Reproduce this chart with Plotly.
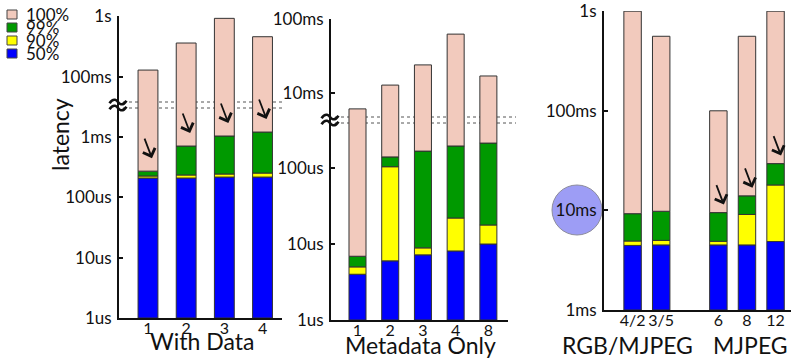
import numpy as np
import plotly.graph_objects as go

W, H = 791, 361
FONT = "Lato"

# Percentile levels, drawn bottom to top
LEVELS = ["50%", "90%", "99%", "100%"]
COLORS = {"50%": "#0000FF", "90%": "#FFFF00", "99%": "#009900", "100%": "#F2CABD"}

# Panel 1: "With Data" (latency in seconds)
wd_threads = ["1", "2", "3", "4"]
wd_p50 = [209e-6, 209e-6, 217e-6, 217e-6]
wd_p90 = [226e-6, 235e-6, 244e-6, 253e-6]
wd_p99 = [272e-6, 709e-6, 1.04e-3, 1.21e-3]
wd_p100 = [0.130, 0.361, 0.917, 0.458]
wd_arrow = [True, True, True, True]

# Panel 2: "Metadata Only"
md_threads = ["1", "2", "3", "4", "8"]
md_p50 = [4.0e-6, 6.0e-6, 7.2e-6, 8.1e-6, 10.0e-6]
md_p90 = [5.0e-6, 104e-6, 8.9e-6, 22e-6, 17.8e-6]
md_p99 = [6.9e-6, 140e-6, 167e-6, 195e-6, 213e-6]
md_p100 = [6.1e-3, 12.8e-3, 24e-3, 62.6e-3, 17e-3]

# Panel 3: video pipelines
vid_configs = ["4/2", "3/5", "6", "8", "12"]
vid_groups = ["RGB/MJPEG", "RGB/MJPEG", "MJPEG", "MJPEG", "MJPEG"]
vid_p50 = [4.45e-3, 4.5e-3, 4.5e-3, 4.5e-3, 4.87e-3]
vid_p90 = [4.93e-3, 5.0e-3, 4.9e-3, 9.1e-3, 18e-3]
vid_p99 = [9.27e-3, 9.8e-3, 9.5e-3, 14e-3, 29.5e-3]
vid_p100 = [1.0, 0.56, 0.100, 0.56, 1.0]
vid_arrow = [False, False, True, True, True]


def fx(px):
    return px / W


def fy(py):
    return 1 - py / H


fig = go.Figure()


def add_percentile_bars(x, p50, p90, p99, p100, floor, xaxis, yaxes, width):
    lows = [[floor] * len(x), p50, p90, p99]
    highs = [p50, p90, p99, p100]
    for name, lo, hi in zip(LEVELS, lows, highs):
        for ya in yaxes:
            fig.add_trace(go.Bar(
                x=x, y=np.array(hi) - np.array(lo), base=lo,
                xaxis=xaxis, yaxis=ya, width=width,
                marker=dict(color=COLORS[name], line=dict(color="#333333", width=1)),
                showlegend=False, hoverinfo="skip", name=name,
            ))


add_percentile_bars(wd_threads, wd_p50, wd_p90, wd_p99, wd_p100, 1e-6, "x", ["y", "y2"], 0.52)
add_percentile_bars(md_threads, md_p50, md_p90, md_p99, md_p100, 1e-6, "x2", ["y3", "y4"], 0.52)

group_order = list(dict.fromkeys(vid_groups))
vid_pos = [i + group_order.index(g) for i, g in enumerate(vid_groups)]
add_percentile_bars(vid_pos, vid_p50, vid_p90, vid_p99, vid_p100, 1e-3, "x3", ["y5"], 0.61)

axis_common = dict(showline=True, linecolor="#111111", linewidth=2, showgrid=False,
                   zeroline=False, tickfont=dict(family=FONT, size=17, color="#111111"))
xcommon = dict(axis_common, ticks="", tickangle=0, ticklabelstandoff=-5,
               tickfont=dict(family=FONT, size=16, color="#111111"))
ycommon = dict(axis_common, type="log", ticks="inside", ticklen=4, tickwidth=1.5,
               tickcolor="#111111", ticklabelstandoff=2)

fig.update_layout(
    width=W, height=H, margin=dict(l=0, r=0, t=0, b=0, autoexpand=False),
    paper_bgcolor="white", plot_bgcolor="rgba(0,0,0,0)",
    barmode="overlay", showlegend=False,
    font=dict(family=FONT, color="#111111"),
    # With Data: broken log axis
    xaxis=dict(xcommon, domain=[fx(119), fx(282)], type="category", range=[-0.759, 3.51], anchor="y"),
    yaxis=dict(ycommon, domain=[fy(318), fy(105)], range=[-6, -2.469], anchor="x",
               tickvals=[1e-6, 1e-5, 1e-4, 1e-3], ticktext=["1us", "10us", "100us", "1ms"]),
    yaxis2=dict(ycommon, domain=[fy(105), fy(16)], range=[-1.459, 0.001], anchor="x",
                tickvals=[0.1, 1], ticktext=["100ms", "1s"]),
    # Metadata Only: broken log axis
    xaxis2=dict(xcommon, domain=[fx(331), fx(508)], type="category", range=[-0.81, 4.60], anchor="y3"),
    yaxis3=dict(ycommon, domain=[fy(320), fy(120)], range=[-6, -3.368], anchor="x2",
                tickvals=[1e-6, 1e-5, 1e-4], ticktext=["1us", "10us", "100us"]),
    yaxis4=dict(ycommon, domain=[fy(120), fy(19)], range=[-2.365, -0.999], anchor="x2",
                tickvals=[1e-2, 1e-1], ticktext=["10ms", "100ms"]),
    # Video pipelines
    xaxis3=dict(xcommon, domain=[fx(604), 1.0], range=[-1.0, 5.54], anchor="y5",
                tickvals=vid_pos, ticktext=vid_configs),
    yaxis5=dict(ycommon, domain=[fy(310), fy(11)], range=[-3, 0.002], anchor="x3",
                tickvals=[1e-3, 1e-2, 1e-1, 1], ticktext=["1ms", "10ms", "100ms", "1s"]),
)

shapes = []
annotations = []


def tilde_path(cx, cy, half=8.5, amp=3.2):
    """Single tilde stroke centred at (cx, cy) in page pixels, as a paper-space path."""
    pts = [(cx - half, cy + amp * 0.4), (cx - half * 0.5, cy - amp * 1.6),
           (cx - half * 0.1, cy - amp * 0.4), (cx, cy),
           (cx + half * 0.5, cy + amp * 1.6), (cx + half, cy - amp * 0.4)]
    p = [f"{fx(x):.5f},{fy(y):.5f}" for x, y in pts]
    return f"M {p[0]} C {p[1]} {p[2]} {p[3]} S {p[4]} {p[5]}"


# Axis-break markers: dotted guides plus a double tilde across the axis
for axis_x, x1, ya, yb in [(119, 282, 102, 108), (331, 516, 117, 123)]:
    for yy in (ya, yb):
        shapes.append(dict(type="line", xref="paper", yref="paper", x0=fx(axis_x + 4), x1=fx(x1),
                           y0=fy(yy), y1=fy(yy), line=dict(color="#555555", width=1, dash="dot"),
                           layer="below"))
        shapes.append(dict(type="path", xref="paper", yref="paper", path=tilde_path(axis_x - 1, yy),
                           line=dict(color="#111111", width=2.6)))

# Highlight behind the 10ms label of the video panel
shapes.append(dict(type="circle", xref="paper", yref="paper", x0=fx(552), x1=fx(602),
                   y0=fy(235), y1=fy(185), fillcolor="#9D9DF5",
                   line=dict(color="#8C8C9C", width=1), layer="below"))

# Legend
for i, name in enumerate(reversed(LEVELS)):
    cy = 14.5 + 13 * i
    shapes.append(dict(type="rect", xref="paper", yref="paper", x0=fx(7), x1=fx(17),
                       y0=fy(cy + 4.5), y1=fy(cy - 4.5), fillcolor=COLORS[name],
                       line=dict(color="#444444", width=1)))
    annotations.append(dict(xref="paper", yref="paper", x=fx(24), y=fy(cy), text=name,
                            showarrow=False, xanchor="left", yanchor="middle",
                            font=dict(family=FONT, size=17, color="#111111")))

# Y axis title
annotations.append(dict(xref="paper", yref="paper", x=fx(60), y=fy(135), text="latency",
                        textangle=-90, showarrow=False, xanchor="center", yanchor="middle",
                        font=dict(family=FONT, size=23, color="#111111")))

# Panel titles
for text, cx, cy in [("With Data", 202, 341), ("Metadata Only", 420, 345),
                     ("RGB/MJPEG", 627, 345), ("MJPEG", 750, 345)]:
    annotations.append(dict(xref="paper", yref="paper", x=fx(cx), y=fy(cy), text=text,
                            showarrow=False, xanchor="center", yanchor="middle",
                            font=dict(family=FONT, size=23, color="#111111")))

# Arrows pointing at the 99th percentile tops
arrow_style = dict(text="", showarrow=True, arrowhead=4, arrowsize=1.4, arrowwidth=1.8,
                   arrowcolor="#111111", ax=-8, ay=-21, standoff=0)
for i, flag in enumerate(wd_arrow):
    if flag:
        annotations.append(dict(arrow_style, xref="x", yref="y", x=i, y=np.log10(wd_p99[i]),
                                xshift=4, yshift=13))
for i, flag in enumerate(vid_arrow):
    if flag:
        annotations.append(dict(arrow_style, xref="x3", yref="y5", x=vid_pos[i],
                                y=np.log10(vid_p99[i]), xshift=5.5, yshift=8))

fig.update_layout(shapes=shapes, annotations=annotations)
fig.write_html("out.html")
